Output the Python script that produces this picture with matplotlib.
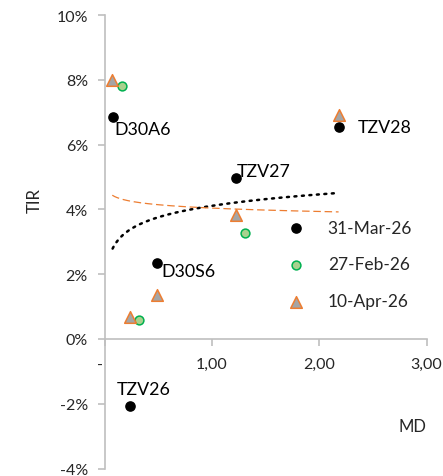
import numpy as np
import matplotlib
matplotlib.use("Agg")
import matplotlib.pyplot as plt

plt.rcParams['font.family'] = ['Lato', 'DejaVu Sans']

# modified duration (MD) and yield (TIR, %) per bond
names = ['D30A6', 'TZV26', 'D30S6', 'TZV27', 'TZV28']
md_mar = [0.075, 0.239, 0.487, 1.22, 2.18]
tir_mar = [6.86, -2.08, 2.35, 4.97, 6.53]
md_feb = [0.162, 0.32, 1.31]
tir_feb = [7.82, 0.59, 3.27]
md_apr = [0.072, 0.24, 0.49, 1.22, 2.18]
tir_apr = [8.00, 0.68, 1.36, 3.83, 6.90]

# label offsets in pixels (dx, dy, ha)
label_pos = {
    'D30A6': (2, -12, 'left'),
    'TZV26': (13, 17, 'center'),
    'D30S6': (5, -8.5, 'left'),
    'TZV27': (1.5, 6.5, 'left'),
    'TZV28': (19, 0, 'left'),
}

txt = '#262626'
axis_gray = '#BFBFBF'

fig = plt.figure(figsize=(4.43, 4.77), dpi=100)
ax = fig.add_axes([0.236, 0.0157, 0.727, 0.9507])

ax.scatter(md_mar, tir_mar, s=44, color='black', zorder=4, label='31-Mar-26')
ax.scatter(md_feb, tir_feb, s=40, facecolor='#A9D18E', edgecolor='#00B050',
           linewidth=1.1, zorder=4, label='27-Feb-26')
ax.scatter(md_apr, tir_apr, s=70, marker='^', facecolor='#A5A5A5',
           edgecolor='#ED7D31', linewidth=1.1, zorder=5, label='10-Apr-26')


def log_trend(x, y):
    b, a = np.polyfit(np.log(x), y, 1)
    xs = np.linspace(min(x), max(x), 200)
    return xs, a + b * np.log(xs)


xs, ys = log_trend(md_mar, tir_mar)
ax.plot(xs, ys, color='black', lw=1.8, linestyle=(0, (0.8, 2.2)),
        dash_capstyle='round', zorder=3)
xs, ys = log_trend(md_apr, tir_apr)
ax.plot(xs, ys, color='#ED7D31', lw=0.9, linestyle=(0, (6, 3)), zorder=3)

for n, x, y in zip(names, md_mar, tir_mar):
    dx, dy, ha = label_pos[n]
    ax.annotate(n, (x, y), xytext=(dx, dy), textcoords='offset pixels',
                ha=ha, va='center', fontsize=12.8, color='black')

ax.set_xlim(0, 3)
ax.set_ylim(-4, 10)
ax.spines['top'].set_visible(False)
ax.spines['right'].set_visible(False)
ax.spines['bottom'].set_position(('data', 0))
for s in ('left', 'bottom'):
    ax.spines[s].set_color(axis_gray)
    ax.spines[s].set_linewidth(1.2)

ax.set_xticks([0, 1, 2, 3])
ax.set_xticklabels(['-  ', '1,00', '2,00', '3,00'])
ax.set_yticks(np.arange(-4, 11, 2))
ax.set_yticklabels(['%d%%' % v for v in np.arange(-4, 11, 2)])
ax.tick_params(axis='both', colors=axis_gray, length=5, width=1.2,
               labelcolor=txt, labelsize=11.5)
ax.tick_params(axis='x', pad=8)
ax.tick_params(axis='y', pad=7)

ax.text(-0.216, 0.594, 'TIR', rotation=90, transform=ax.transAxes,
        ha='center', va='center', fontsize=12, color=txt)
ax.text(0.957, 0.094, 'MD', transform=ax.transAxes,
        ha='center', va='center', fontsize=12, color=txt)

ax.legend(loc='upper left', bbox_to_anchor=(0.569, 0.549), frameon=False,
          fontsize=12.5, borderpad=0, borderaxespad=0, handlelength=1.0,
          handletextpad=1.3, labelspacing=1.2, labelcolor=txt)

fig.savefig('out.png', dpi=100)
